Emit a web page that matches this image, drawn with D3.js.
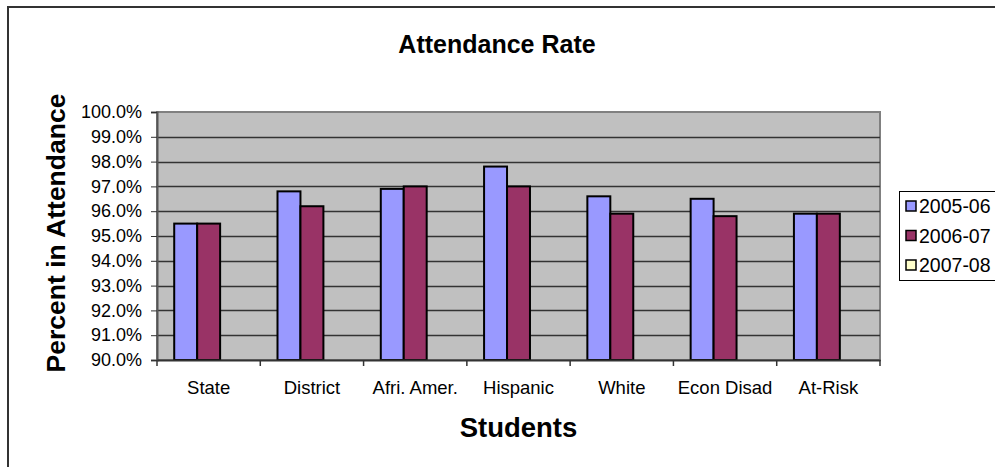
<!DOCTYPE html>
<html>
<head>
<meta charset="utf-8">
<script src="https://cdn.jsdelivr.net/npm/d3@7"></script>
<style>
  html, body { margin: 0; padding: 0; background: #fff; }
  svg { display: block; }
  text { font-family: "Liberation Sans", Arial, sans-serif; fill: #000; }
</style>
</head>
<body>
<svg id="chart" width="995" height="467"></svg>
<script>
const categories = ["State", "District", "Afri. Amer.", "Hispanic", "White", "Econ Disad", "At-Risk"];
const seriesNames = ["2005-06", "2006-07", "2007-08"];
const values2005 = [95.5, 96.8, 96.9, 97.8, 96.6, 96.5, 95.9];
const values2006 = [95.5, 96.2, 97.0, 97.0, 95.9, 95.8, 95.9];
const values2007 = [null, null, null, null, null, null, null];
const seriesColors = ["#9999FF", "#993366", "#FFFFCC"];
const yTicks = [90, 91, 92, 93, 94, 95, 96, 97, 98, 99, 100];

const series = [values2005, values2006, values2007];

const svg = d3.select("#chart");
const plot = { left: 157, right: 880, top: 112, bottom: 360 };

// outer chart border (extends beyond the window on right/bottom)
svg.append("rect")
  .attr("x", 8).attr("y", 7).attr("width", 1100).attr("height", 600)
  .attr("fill", "#fff").attr("stroke", "#333").attr("stroke-width", 2);

const x0 = d3.scaleBand().domain(categories).range([plot.left, plot.right]).paddingInner(0).paddingOuter(0);
// Excel-style gap width 150%: 3 bars + 1.5 bar gap per category
const unit = x0.bandwidth() / 4.5;
const y = d3.scaleLinear().domain([90, 100]).range([plot.bottom, plot.top]);

// plot background
svg.append("rect")
  .attr("x", plot.left).attr("y", plot.top)
  .attr("width", plot.right - plot.left).attr("height", plot.bottom - plot.top)
  .attr("fill", "#C0C0C0").attr("stroke", "#808080").attr("stroke-width", 2);

// gridlines
svg.append("g").selectAll("line").data(yTicks.slice(1, -1)).join("line")
  .attr("x1", plot.left).attr("x2", plot.right)
  .attr("y1", d => Math.round(y(d)) + 0.5).attr("y2", d => Math.round(y(d)) + 0.5)
  .attr("stroke", "#333").attr("stroke-width", 1.5);

// bars
series.forEach((vals, si) => {
  svg.append("g").selectAll("rect").data(categories.map((c, i) => ({ c, v: vals[i] })).filter(d => d.v != null))
    .join("rect")
    .attr("x", d => x0(d.c) + unit * 0.75 + unit * si)
    .attr("y", d => y(d.v))
    .attr("width", unit)
    .attr("height", d => y(90) - y(d.v))
    .attr("fill", seriesColors[si])
    .attr("stroke", "#000").attr("stroke-width", 2);
});

// y axis
const yAxis = d3.axisLeft(y).tickValues(yTicks).tickSize(6).tickPadding(9)
  .tickFormat(d => d3.format(".1f")(d) + "%");
const gy = svg.append("g").attr("transform", `translate(${plot.left},0)`).call(yAxis);
gy.select(".domain").attr("stroke", "#555").attr("stroke-width", 2);
gy.selectAll(".tick line").attr("stroke", "#333");
gy.selectAll(".tick text").attr("font-size", 18).attr("font-family", "Liberation Sans, Arial, sans-serif").attr("fill", "#000");

// x axis
const xAxis = d3.axisBottom(x0).tickSize(0).tickPadding(0);
const gx = svg.append("g").attr("transform", `translate(0,${plot.bottom})`).call(xAxis);
gx.select(".domain").attr("stroke", "#333").attr("stroke-width", 2);
gx.selectAll(".tick text").attr("font-size", 18.5).attr("font-family", "Liberation Sans, Arial, sans-serif")
  .attr("fill", "#000").attr("y", 34).attr("dy", 0);
// category boundary tick marks
const boundaries = categories.map(c => x0(c)).concat([plot.right]);
svg.append("g").selectAll("line").data(boundaries).join("line")
  .attr("x1", d => d).attr("x2", d => d)
  .attr("y1", plot.bottom).attr("y2", plot.bottom + 6)
  .attr("stroke", "#333").attr("stroke-width", 1.5);

// titles
svg.append("text").attr("x", 497).attr("y", 53).attr("text-anchor", "middle")
  .attr("font-size", 25).attr("font-weight", "bold").text("Attendance Rate");
svg.append("text").attr("x", (plot.left + plot.right) / 2).attr("y", 437).attr("text-anchor", "middle")
  .attr("font-size", 27.5).attr("font-weight", "bold").text("Students");
svg.append("text").attr("transform", `translate(65,${(plot.top + plot.bottom) / 2 - 3}) rotate(-90)`)
  .attr("text-anchor", "middle")
  .attr("font-size", 26.5).attr("font-weight", "bold").text("Percent in Attendance");

// legend
const lg = svg.append("g");
lg.append("rect").attr("x", 899.5).attr("y", 191.5).attr("width", 200).attr("height", 89)
  .attr("fill", "#fff").attr("stroke", "#000").attr("stroke-width", 1);
const legendY = d3.scalePoint().domain(seriesNames).range([206, 265]);
seriesNames.forEach((name, i) => {
  lg.append("rect").attr("x", 906).attr("y", legendY(name) - 5).attr("width", 10).attr("height", 10)
    .attr("fill", seriesColors[i]).attr("stroke", "#000").attr("stroke-width", 1.5);
  lg.append("text").attr("x", 919).attr("y", legendY(name)).attr("dy", "0.36em")
    .attr("font-size", 19.5).text(name);
});
</script>
</body>
</html>
